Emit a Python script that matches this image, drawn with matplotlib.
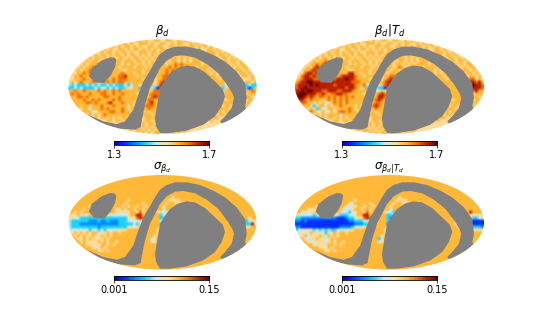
# -*- coding:utf8 -*-
import numpy as np
import matplotlib
matplotlib.use('Agg')
import matplotlib.pyplot as plt
from matplotlib.colors import LinearSegmentedColormap
from matplotlib.patches import Ellipse, Polygon

# map cells, one digit per cell (0 low end of the colour bar, 9 high end)
betaRows = [
    "5555555555555555555555566565566556655656655655555555555555555555",
    "5555555555555555556656556665655665565665565656655555555555555555",
    "5555555555555556565665656556656655665656566565656555555555555555",
    "5555555555556565566565665656565665656566566565566565555555555555",
    "5555555555565665656656556665665656566565665656566656565555555555",
    "5555555556566565665656656565656665656566566565656656656555555555",
    "5555555656656566566565665656566565666565656656565665665656555555",
    "5555556566566665665666566565656656566565656665656566565665655555",
    "5555565666776665665656656565666565667676666665656565666565665555",
    "5555656676766566656666566656565666767676766566665656566656566555",
    "5556566766665666665566666566566667676767876766656566656566656555",
    "5556676766666666667666566565656667687677676666665656665665665655",
    "5566766666666566677866656666656677776666667666766656566566566565",
    "5566676666666667677766666565656677766666666767676665665665655565",
    "5656766676666767677666666656656786666666666676676666656665656656",
    "4343334343433434333434665633646873666666666664466766646666333433",
    "3343433334344343433654663346431766666666666665566664346666433136",
    "6676676666767667676666666565677666666666666676666643466666656676",
    "6767666766677667667666656566777666666666666666676665566666665666",
    "6667767666667766676666665656787666666666666666667566666666666656",
    "5666676676766667676666666567766666666666666666667656656666665665",
    "5666667767666786667666566567866666666666666666667565666666656655",
    "5566666566676667666656565677766666666666666666766566566566666555",
    "5556566466676766667656665667666666666666666665766656665666565555",
    "5555666645666677667665656565666666666666666656665666566665655555",
    "5555555656567666666666656666566666666666666665656656656555555555",
    "5555555556566565656656566566666666666666666565665665555555555555",
    "5555555555555665665656566566566666666666656656656555555555555555",
    "5555555555555555556565665656656666665656656565555555555555555555",
    "5555555555555555555555655656565665665656565555555555555555555555",
    "5555555555555555555556566565656565656655655555555555555555555555",
    "5555555555555555555555565656566566565656555555555555555555555555",
]

betaTdRows = [
    "5555555555555555555555566565566556655656655655555555555555555555",
    "5555555555555555556656556665655665565665565656655555555555555555",
    "5555555555555556565665656556656655665656566565656555555555555555",
    "5555555555556565566565665656565665656566566565566565555555555555",
    "5555555555565665656656556665665656566565665656566656565555555555",
    "5555555556566565665656656565656665656566566565656656656555555555",
    "5555555656656566566565665656566565666565656656565665665656555555",
    "5555556566766665665666566565656656566565656665656566565665655555",
    "5555566767876665665656656565666565665656566665656565666565665555",
    "5555657878766566656666566656565665676566766566665656566656566555",
    "5556678787665666665566666566566656656567666766656566656566656555",
    "5557887876666666668866566565656566666666666666656566665665665655",
    "5578878766666667888876656666656677666666666666666656566566566565",
    "5678887777777788898876666565656787666666666666666665665667677565",
    "6788998888888888888777666656667887666666666666666666656667788786",
    "7888898988888788888876674563467876666666666666666666666678899887",
    "7889888888888888878876563345331766666666666666666666666678898887",
    "8898998887788877888766666565465666666666666666666666666667787866",
    "8999888778767788776666656566787666666666666666666665566666465666",
    "8998787677676767676766665666887666666666666666666566666666466656",
    "6887676665676767676666666567876666666666666666667656656666665665",
    "5677665656546767576666666567766666666666666666667565666666656655",
    "5566653566465667666656565678766666666666666666766566566566666555",
    "5556565364566566667656665667666666666666666665766656665666565555",
    "5555676546546567767665656565666666666666666656665666566665655555",
    "5555555656566664666666656666566666666666666665656656656555555555",
    "5555555556566565656656566566666666666666666565665665555555555555",
    "5555555555555665665656566566566666666666656656656555555555555555",
    "5555555555555555556565665656656666665656656565555555555555555555",
    "5555555555555555555555655656565665665656565555555555555555555555",
    "5555555555555555555556566565656565656655655555555555555555555555",
    "5555555555555555555555565656566566565656555555555555555555555555",
]

sigmaRows = [
    "6666666666666666666666666666666666666666666666666666666666666666",
    "6666666666666666666666666666666666666666666666666666666666666666",
    "6666666666666666666666666666666666666666666666666666666666666666",
    "6666666666666666666666666666666666666666666666666666666666666666",
    "6666666666666666666666666666666666666666666666666666666666666666",
    "6666666666666666666666666666666666666666666666666666666666666666",
    "6666666666666666666666666666666666666666666666666666666666666666",
    "6666666666666666666666666666666666656666666666666666666666666666",
    "6666666666666666666656666666666666555566666666666666666666666666",
    "6666666666666666666566666566666665665556666666666666666666666666",
    "6666666566666666665656656656666656666555566666666666666666666666",
    "6666656666666666556566566566566646666666556666666666666666666666",
    "6656566666666666554556657566665544666666665566666666666666666666",
    "5556554666666544444556688665666344366666666555666666666666666666",
    "5544333333333333333345578756666334566666666665456666666666666566",
    "4333333222322322233344445454666448366666666665445666666654433454",
    "4333222222222222233333434476666358766666666666543466666643323384",
    "4333333333233333333345456786666445766666666666444466666654445566",
    "5444444344343444455566666666665466666666666666665566666666666666",
    "5565656566455656656666666666665666666666666666665466666666666666",
    "5656565565565656666666666666656666666666666666666566666666666666",
    "6665565655556566666666666666456666666666666666666666666666666666",
    "6666565555656566566666666666456666666666666666666666666666666666",
    "6666665555566565666666666666666666666666666666666666666666666666",
    "6666666655465666666666666666666666666666666666666666666666666666",
    "6666666666556566666666666666666666666666666666666666666666666666",
    "6666666666666666666666666666666666666666666666666666666666666666",
    "6666666666666666666666666666666666666666666666666666666666666666",
    "6666666666666666666666666666666666666666666666666666666666666666",
    "6666666666666666666666666666666666666666666666666666666666666666",
    "6666666666666666666666666666666666666666666666666666666666666666",
    "6666666666666666666666666666666666666666666666666666666666666666",
]

sigmaTdRows = [
    "6666666666666666666666666666666666666666666666666666666666666666",
    "6666666666666666666666666666666666666666666666666666666666666666",
    "6666666666666666666666666666666666666666666666666666666666666666",
    "6666666666666666666666666666666666666666666666666666666666666666",
    "6666666666666666666666666666666666666666666666666666666666666666",
    "6666666666666666666666666666666666666666666666666666666666666666",
    "6666666666666666666666666666666666666666666666666666666666666666",
    "6666666666666666666666666666666666656666666666666666666666666666",
    "6666666666666666666656666666666666555566666666666666666666666666",
    "6666666666666666665466666566666665665556666666666666666666666666",
    "6666666566666666654556656656666656666555566666666666666666666666",
    "6666555666666666444566566566566646666666556666666666666666666666",
    "6645455666666665443456657566665443666666665566666666666666686666",
    "5544443555566543334456688665666334366666666544666666666666655555",
    "3322222222222211123345578756666324466666666665345666666555443344",
    "2212111111111111112233344454666347866666665665344566665433221111",
    "1111111111111111111122233376666248766666666666443366665432111111",
    "2211111111111112222344456786666445766666666666544466666544323332",
    "3454543434343344445566666666665466666666666666665466666666555555",
    "4454565545355656656666666666665466666666666666665466666666666666",
    "5456455565465656666666666666656666666666666666666566666666666666",
    "6564455655456566666666666666346666666666666666666666666666666666",
    "6666554555456566566666666666456666666666666666666666666666666666",
    "6666664555566565666666666666666666666666666666666666666666666666",
    "6666666655465666666666666666666666666666666666666666666666666666",
    "6666666666556566666666666666666666666666666666666666666666666666",
    "6666666666666666666666666666666666666666666666666666666666666666",
    "6666666666666666666666666666666666666666666666666666666666666666",
    "6666666666666666666666666666666666666666666666666666666666666666",
    "6666666666666666666666666666666666666666666666666666666666666666",
    "6666666666666666666666666666666666666666666666666666666666666666",
    "6666666666666666666666666666666666666666666666666666666666666666",
]

# masked sky, traced in the coordinates of the map box
blobX = [195, 180, 155, 125, 117, 133, 163, 182, 195, 199]
blobY = [129, 127, 137, 160, 183, 202, 204, 182, 157, 135]

coreX = [330, 345, 360, 385, 410, 435, 465, 495, 518, 525, 515, 495, 460, 410, 360, 330, 318, 315, 320]
coreY = [219, 195, 175, 158, 152, 155, 172, 200, 222, 244, 274, 304, 329, 347, 354, 354, 334, 309, 279]

bandX = [110, 160, 200, 225, 250, 265, 280, 300, 315, 330, 350, 375, 410, 450, 490, 525, 560, 585, 590, 585, 600, 530,
         510, 525, 545, 552, 547, 535, 505, 470, 435, 400, 375, 350, 330, 310, 300, 285, 275, 272, 255, 210, 160]
bandY = [297, 319, 327, 319, 284, 239, 200, 167, 140, 117, 103, 95, 95, 103, 120, 140, 170, 205, 249, 274, 300, 345,
         319, 304, 279, 249, 235, 215, 175, 147, 128, 121, 123, 137, 160, 200, 219, 269, 319, 337, 344, 341, 329]

titles = [r'$\beta_d$', r'$\beta_d|T_d$', r'$\sigma_{\beta_d}$', r'$\sigma_{\beta_d|T_d}$']
barLabels = [('1.3', '1.7'), ('1.3', '1.7'), ('0.001', '0.15'), ('0.001', '0.15')]
panels = [betaRows, betaTdRows, sigmaRows, sigmaTdRows]

# axes boxes in pixels: left, top, width, height
mapBoxes = [(68.3, 39.3, 188.4, 94.7), (295.0, 39.3, 189.0, 94.7),
            (68.3, 175.0, 188.4, 94.7), (295.0, 175.0, 189.0, 94.7)]
barBoxes = [(114.3, 140.7, 95, 4.3), (341.7, 140.7, 95, 4.3),
            (114.3, 276.0, 95, 4.3), (341.7, 276.0, 95, 4.3)]

planck = LinearSegmentedColormap.from_list('planck', [
    (0.000, '#0000c8'), (0.111, '#0030ff'), (0.222, '#0090ff'), (0.333, '#20d0ff'),
    (0.444, '#c8ecf0'), (0.556, '#ffdc98'), (0.667, '#ffb838'), (0.778, '#f57000'),
    (0.889, '#b82000'), (1.000, '#640000')])

W, H = 538.0, 323.0


def box_to_fig(box):
    x, y, w, h = box
    return [x / W, 1 - (y + h) / H, w / W, h / H]


fig = plt.figure(figsize=(W / 100, H / 100), dpi=100)

for i in range(4):
    ax = fig.add_axes(box_to_fig(mapBoxes[i]))
    cells = np.array([[int(c) for c in r.ljust(64, '6')[:64]] for r in panels[i]], dtype=float)
    im = ax.imshow(cells, cmap=planck, vmin=0, vmax=9, extent=(55, 620, 357, 73),
                   aspect='auto', interpolation='bilinear')
    edge = Ellipse((337.5, 215), 565, 284, transform=ax.transData, facecolor='none', edgecolor='none')
    ax.add_patch(edge)
    im.set_clip_path(edge)
    for xs, ys in [(blobX, blobY), (coreX, coreY), (bandX, bandY)]:
        p = Polygon(np.column_stack([xs, ys]), closed=True, facecolor='#808080', edgecolor='none')
        ax.add_patch(p)
        p.set_clip_path(edge)
    ax.set_xlim(55, 620)
    ax.set_ylim(357, 73)
    ax.axis('off')
    ax.set_title(titles[i], fontsize=8.5, pad=1.5)

    cax = fig.add_axes(box_to_fig(barBoxes[i]))
    cax.imshow(np.linspace(0, 1, 256).reshape(1, -1), cmap=planck, aspect='auto', extent=(0, 1, 0, 1))
    cax.set_yticks([])
    cax.set_xticks([0, 1])
    cax.set_xticklabels(barLabels[i], fontsize=7)
    cax.tick_params(axis='x', length=2, width=0.5, pad=1.5)
    for s in cax.spines.values():
        s.set_linewidth(0.6)

fig.savefig('out.png', dpi=100)
